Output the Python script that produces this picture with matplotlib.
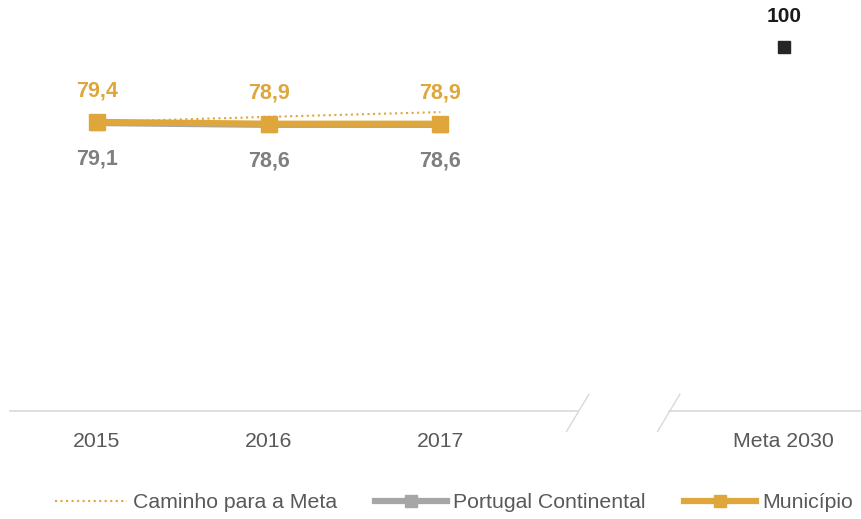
import numpy as np
import matplotlib.pyplot as plt
from matplotlib.lines import Line2D

plt.rcParams['font.family'] = ['Liberation Sans', 'DejaVu Sans']

# data
categories = ['2015', '2016', '2017', '', 'Meta 2030']
municipio = [79.4, 78.9, 78.9]
portugal = [79.1, 78.6, 78.6]
caminho = [79.4, 80.8, 82.1]
meta = 100

orange = '#DFA73B'
grey = '#A6A6A6'
grey_txt = '#7F7F7F'

x_years = np.arange(3)
x_meta = 4

fig = plt.figure(figsize=(8.61, 5.19), dpi=100)
ax = fig.add_axes([0.0116, 0.208, 0.9884, 0.79])
ax.set_xlim(-0.507, 4.45)
ax.set_ylim(0, 112.6)

ax.plot(x_years, caminho, color=orange, linestyle=':', linewidth=1.5, zorder=2)
ax.plot(x_years, portugal, color=grey, linewidth=4.5, marker='s', markersize=10, zorder=3)
ax.plot(x_years, municipio, color=orange, linewidth=4.5, marker='s', markersize=11, zorder=4)
ax.plot([x_meta], [meta], color='#262626', marker='s', markersize=9, linestyle='none', zorder=4)

for xi, v in zip(x_years, municipio):
    ax.annotate(f'{v:.1f}'.replace('.', ','), (xi, v), xytext=(0, 22), textcoords='offset points',
                ha='center', va='center', color=orange, fontsize=15.5, fontweight='bold')
for xi, v in zip(x_years, portugal):
    ax.annotate(f'{v:.1f}'.replace('.', ','), (xi, v), xytext=(0, -26), textcoords='offset points',
                ha='center', va='center', color=grey_txt, fontsize=15.5, fontweight='bold')
ax.annotate(f'{meta}', (x_meta, meta), xytext=(0, 22), textcoords='offset points',
            ha='center', va='center', color='#1a1a1a', fontsize=15, fontweight='bold')

# broken baseline
for s in ax.spines.values():
    s.set_visible(False)
axc = '#D9D9D9'
ax.plot([-0.507, 2.80], [0, 0], color=axc, linewidth=1.2, clip_on=False)
ax.plot([3.33, 4.45], [0, 0], color=axc, linewidth=1.2, clip_on=False)
for xb in (2.80, 3.33):
    ax.plot([xb + 0.065, xb - 0.065], [4.6, -5.6], color=axc, linewidth=1.0, clip_on=False)

ax.set_yticks([])
ax.set_xticks(range(len(categories)))
ax.set_xticklabels(categories, fontsize=15.3, color='#595959')
ax.tick_params(axis='x', length=0, pad=15)

handles = [
    Line2D([], [], color=orange, linestyle=':', linewidth=1.5),
    Line2D([], [], color=grey, linewidth=4.5, marker='s', markersize=8),
    Line2D([], [], color=orange, linewidth=4.5, marker='s', markersize=8),
]
labels = ['Caminho para a Meta', 'Portugal Continental', 'Município']
fig.legend(handles, labels, loc='center', bbox_to_anchor=(0.527, 0.031), ncol=3, frameon=False,
           fontsize=15.3, labelcolor='#595959', handlelength=3.4, handletextpad=0.28, columnspacing=1.8)

fig.savefig('out.png', dpi=100)
